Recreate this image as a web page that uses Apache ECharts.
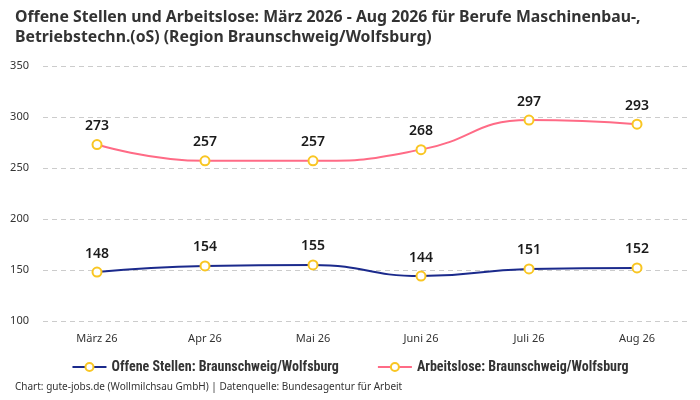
<!DOCTYPE html>
<html><head><meta charset="utf-8">
<script src="https://cdn.jsdelivr.net/npm/echarts@6/dist/echarts.min.js"></script>
<style>html,body{margin:0;padding:0;background:#fff}#c{width:700px;height:400px}</style>
</head><body><div id="c"></div>
<script>
const categories = ['März 26','Apr 26','Mai 26','Juni 26','Juli 26','Aug 26'];
const offeneStellen = [148,154,155,144,151,152];
const arbeitslose = [273,257,257,268,297,293];
const seriesNames = ['Offene Stellen: Braunschweig/Wolfsburg','Arbeitslose: Braunschweig/Wolfsburg'];
const titleText = 'Offene Stellen und Arbeitslose: März 2026 - Aug 2026 für Berufe Maschinenbau-,\nBetriebstechn.(oS) (Region Braunschweig/Wolfsburg)';
const footerText = 'Chart: gute-jobs.de (Wollmilchsau GmbH) | Datenquelle: Bundesagentur für Arbeit';

const font = '"Noto Sans", "Open Sans", sans-serif';
const chart = echarts.init(document.getElementById('c'), null, {renderer:'canvas'});
function mk(name, data, color){
  return {
    name, type:'line', data, smooth:true,
    symbol:'circle', symbolSize:9,
    lineStyle:{color, width:2},
    itemStyle:{color:'#fff', borderColor:'#f9c623', borderWidth:2},
    label:{show:true, position:'top', distance:6, color:'#1a1a1a', fontSize:14, fontWeight:600, fontFamily:font},
    emphasis:{disabled:true}
  };
}
chart.setOption({
  animation:false,
  color:['#1b2a8c','#ff6b86'],
  title:[{text:titleText, left:10, top:2, textStyle:{fontSize:15.8, fontWeight:'bold', color:'#333', fontFamily:font, lineHeight:20}},
         {text:footerText, left:10, bottom:3, textStyle:{fontSize:10, fontWeight:'normal', color:'#333', fontFamily:font}}],
  legend:{bottom:21, left:'center', itemWidth:34, itemHeight:10, itemGap:38,
    textStyle:{fontSize:14, fontWeight:'bold', color:'#333', fontFamily:'"Roboto Condensed", Roboto, sans-serif'},
    data:seriesNames},
  grid:{left:43, right:9, top:66, bottom:79, containLabel:false},
  xAxis:{type:'category', data:categories, boundaryGap:true,
    axisLine:{show:false}, axisTick:{show:false},
    axisLabel:{color:'#333', fontSize:11, margin:12, fontFamily:font}},
  yAxis:{type:'value', min:100, max:350, interval:50,
    axisLine:{show:false}, axisTick:{show:false},
    axisLabel:{color:'#333', fontSize:11, margin:14, fontFamily:font},
    splitLine:{lineStyle:{color:'#ccc', type:[5,4]}}},
  series:[mk(seriesNames[0], offeneStellen, '#1b2a8c'), mk(seriesNames[1], arbeitslose, '#ff6b86')]
});
</script></body></html>
